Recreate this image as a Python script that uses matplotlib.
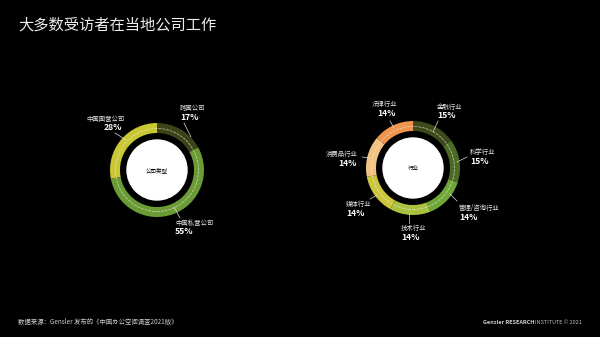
import matplotlib.pyplot as plt
from matplotlib.patches import Circle

plt.rcParams['font.family'] = ['Noto Sans CJK SC', 'DejaVu Sans']

W, H = 600, 337

# company type donut
company_labels = ['跨国公司', '中国私营公司', '中国国营公司']
company_values = [17, 55, 28]
company_colors = ['#3b4419', '#6b9b34', '#c9c733']

# industry donut
industry_labels = ['金融行业', '科学行业', '管理/咨询行业', '技术行业', '媒体行业', '消费品行业', '法律行业']
industry_values = [15, 15, 14, 14, 14, 14, 14]
industry_colors = ['#3d4a1b', '#4b6a26', '#6fa738', '#a8c13f', '#cbc63c', '#f2c383', '#ef9550']


def donut(ax, values, colors, cx, cy, center_text):
    ax.pie(values, colors=colors, radius=47, center=(cx, H - cy),
           startangle=90, counterclock=False,
           wedgeprops=dict(width=10, linewidth=0))
    ax.add_patch(Circle((cx, H - cy), 41.5, fill=False, ec='#e8e8d0',
                        lw=0.5, ls=(0, (4, 1.5)), alpha=0.8))
    ax.add_patch(Circle((cx, H - cy), 30, color='white'))
    ax.text(cx, H - cy, center_text, color='black', fontsize=4,
            ha='center', va='center')


def label(ax, x, y, name, pct, line, pct_dx=0):
    ax.text(x, H - y, name, color='#e6e6e6', fontsize=4.6, ha='left', va='center')
    ax.text(x + pct_dx, H - y - 9, pct, color='white', fontsize=6.2, fontweight='bold',
            ha='left', va='center')
    (x0, y0), (x1, y1) = line
    ax.plot([x0, x1], [H - y0, H - y1], color='#dddddd', lw=0.5)


fig = plt.figure(figsize=(6, 3.37), dpi=100, facecolor='black')
ax = fig.add_axes([0, 0, 1, 1])
ax.set_facecolor('black')

donut(ax, company_values, company_colors, 157, 170, '公司类型')
donut(ax, industry_values, industry_colors, 413, 168, '行业')
ax.set_xlim(0, W)
ax.set_ylim(0, H)
ax.set_aspect('equal')
ax.axis('off')

# left labels
label(ax, 180, 108, company_labels[0], f'{company_values[0]}%', ((184, 123), (191, 137)))
label(ax, 175, 223, company_labels[1], f'{company_values[1]}%', ((180, 218), (174, 207)))
label(ax, 86, 119, company_labels[2], f'{company_values[2]}%', ((115, 133), (126, 140)), 18)

# right labels
label(ax, 437, 107, industry_labels[0], f'{industry_values[0]}%', ((438, 121), (433, 132)))
label(ax, 470, 152, industry_labels[1], f'{industry_values[1]}%', ((467, 157), (457, 162)))
label(ax, 459, 208, industry_labels[2], f'{industry_values[2]}%', ((457, 201), (450, 194)))
label(ax, 401, 228, industry_labels[3], f'{industry_values[3]}%', ((409, 223), (409, 213)))
label(ax, 346, 204, industry_labels[4], f'{industry_values[4]}%', ((370, 199), (377, 195)))
label(ax, 326, 154, industry_labels[5], f'{industry_values[5]}%', ((362, 157), (369, 158)), 12)
label(ax, 372, 104, industry_labels[6], f'{industry_values[6]}%', ((390, 121), (394, 128)), 5)

# title and footer
ax.text(18, H - 25, '大多数受访者在当地公司工作', color='#ececec', fontsize=11,
        ha='left', va='center')
ax.text(18, H - 322, '数据来源：Gensler 发布的《中国办公空间调查2021版》', color='#d0d0d0',
        fontsize=4.6, ha='left', va='center')
ax.text(483, H - 322, 'Gensler RESEARCH', color='#d0d0d0', fontsize=4.0,
        fontweight='bold', ha='left', va='center')
ax.text(582, H - 322, 'INSTITUTE © 2021', color='#bbbbbb', fontsize=4.0,
        ha='right', va='center')

fig.savefig('out.png', dpi=100, facecolor='black')
